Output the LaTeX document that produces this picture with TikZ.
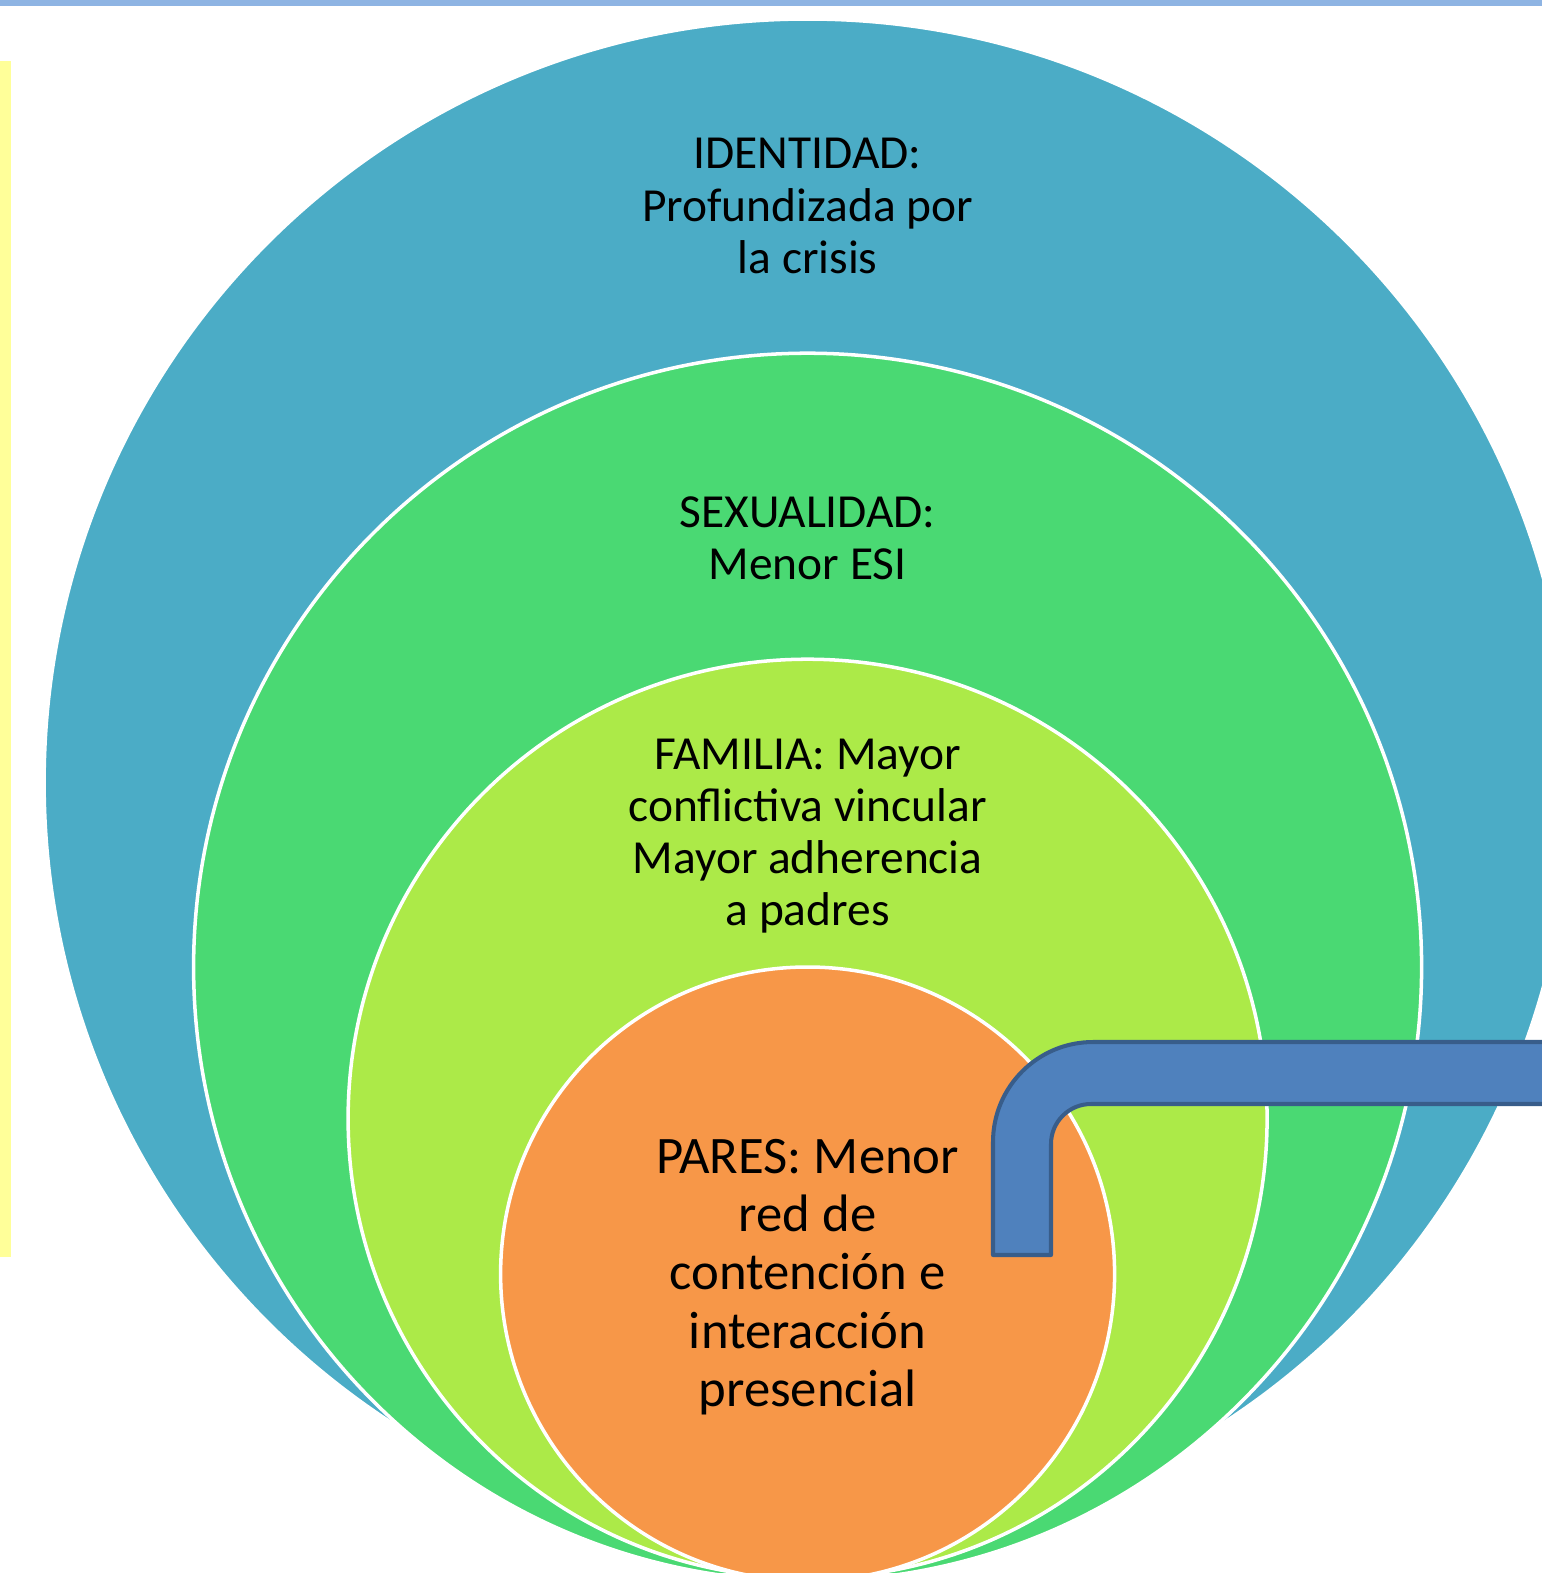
\documentclass[tikz,border=0pt]{standalone}
\usepackage{fontspec}
\setmainfont{Carlito}
\usepackage{xcolor}
\usetikzlibrary{positioning}
\definecolor{identblue}{HTML}{4BACC6}
\definecolor{sexgreen}{HTML}{4AD973}
\definecolor{famlime}{HTML}{ACEA48}
\definecolor{paresorange}{HTML}{F79748}
\definecolor{bendfill}{HTML}{4F81BD}
\definecolor{benddraw}{HTML}{385D8A}
\definecolor{topline}{HTML}{8EB4E3}
\definecolor{sidebar}{HTML}{FFFF99}

\begin{document}
\begin{tikzpicture}[x=0.02cm,y=-0.02cm,
  ring/.style={draw=white,line width=2pt},
  lbl/.style={align=center,inner sep=0pt,font=\fontsize{27}{29.7}\selectfont},
  lblbig/.style={align=center,inner sep=0pt,font=\fontsize{30}{33.1}\selectfont}]
\useasboundingbox (0,0) rectangle (1542,1573);
\clip (0,0) rectangle (1542,1573);
% page bits
\fill[topline] (0,0) rectangle (1542,6);
\fill[sidebar] (0,61) rectangle (11,1257);

% rings, outer to inner
\filldraw[ring,fill=identblue] (807.6,782.5) circle[radius=763.5];
\filldraw[ring,fill=sexgreen] (807.6,967.2) circle[radius=614];
\filldraw[ring,fill=famlime] (807.6,1118.7) circle[radius=459.5];
\filldraw[ring,fill=paresorange] (807.6,1274) circle[radius=307];

% texts
\node[lbl] (ident) at (807.6,206) {IDENTIDAD:\\Profundizada por\\la crisis};
\node[lbl] (sexual) at (807.6,538) {SEXUALIDAD:\\Menor ESI};
\node[lbl] (familia) at (807.6,836) {FAMILIA: Mayor\\conflictiva vincular\\Mayor adherencia\\a padres};
\node[lblbig] (pares) at (807.6,1277) {PARES: Menor\\red de\\contención e\\interacción\\presencial};

% bent bar
\filldraw[fill=bendfill,draw=benddraw,line width=2.3pt,line join=round]
  (993,1255) -- (993,1142) arc[start angle=180,end angle=270,radius=100]
  -- (1560,1042) -- (1560,1104) -- (1091,1104)
  arc[start angle=270,end angle=180,radius=40] -- (1051,1255) -- cycle;
\end{tikzpicture}
\end{document}
